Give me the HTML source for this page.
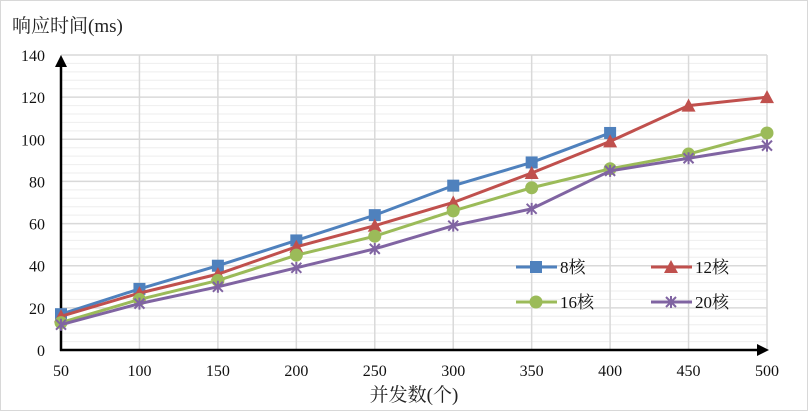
<!DOCTYPE html>
<html><head><meta charset="utf-8"><style>
html,body{margin:0;padding:0;background:#fff;}
svg{display:block;font-family:"Liberation Serif","Noto Serif CJK SC","Noto Sans CJK SC",serif;}
</style></head><body>
<svg id="chart" width="808" height="411" viewBox="0 0 808 411">
<rect x="0.5" y="0.5" width="807" height="410" fill="#fff" stroke="#d8d8d8"/>
<text x="12" y="32" font-size="19" fill="#222">响应时间(ms)</text>
<text x="414" y="401" font-size="19" fill="#222" text-anchor="middle">并发数(个)</text>
<g id="grid"></g><g id="axes"></g><g id="series"></g><g id="legend"></g>
</svg>
<script>
const categories=[50,100,150,200,250,300,350,400,450,500];
const yTicks=[0,20,40,60,80,100,120,140];
const seriesNames=["8核","12核","16核","20核"];
const s8=[17,29,40,52,64,78,89,103];
const s12=[16,27,36,49,59,70,84,99,116,120];
const s16=[13,24,33,45,54,66,77,86,93,103];
const s20=[12,22,30,39,48,59,67,85,91,97];
const NS="http://www.w3.org/2000/svg";
const X0=61,X1=767,Y0=350,Y1=55;
const xs=i=>X0+(X1-X0)*i/(categories.length-1);
const ys=v=>Y0-(Y0-Y1)*v/140;
function mk(t,a,p){const e=document.createElementNS(NS,t);for(const k in a)e.setAttribute(k,a[k]);p.appendChild(e);return e;}
const grid=document.getElementById('grid'),axes=document.getElementById('axes'),ser=document.getElementById('series'),leg=document.getElementById('legend');
for(let v=0;v<=140;v+=4){if(v%20===0)continue;const l=mk('line',{x1:X0,x2:X1,y1:ys(v),y2:ys(v),stroke:'#eeeeee','stroke-width':1},grid);

}
yTicks.forEach(v=>{const l=mk('line',{x1:X0,x2:X1,y1:ys(v),y2:ys(v),stroke:'#d9d9d9','stroke-width':1.5},grid);


const t=mk('text',{x:45,y:ys(v)+6,'font-size':16,'text-anchor':'end',fill:'#111'},axes);t.textContent=v;

});
categories.forEach((c,i)=>{const l=mk('line',{x1:xs(i),x2:xs(i),y1:Y1,y2:Y0,stroke:'#d9d9d9','stroke-width':1.5},grid);


const t=mk('text',{x:xs(i),y:376,'font-size':16,'text-anchor':'middle',fill:'#111'},axes);t.textContent=c;

});
const ya=mk('line',{x1:X0,x2:X0,y1:Y0+1,y2:66,stroke:'#000','stroke-width':2.5},axes);


const yh=mk('polygon',{points:`${X0-6},67 ${X0+6},67 ${X0},55`,fill:'#000'},axes);


const xa=mk('line',{x1:X0-1,x2:758,y1:Y0,y2:Y0,stroke:'#000','stroke-width':2.5},axes);


const xh=mk('polygon',{points:`757,${Y0-6} 757,${Y0+6} 769,${Y0}`,fill:'#000'},axes);


const colors=['#4f81bd','#c0504d','#9bbb59','#8064a2'];
const marks=['square','triangle','circle','star'];
function marker(type,x,y,c,p){let e;
if(type==='square')e=mk('rect',{x:x-6,y:y-6,width:12,height:12,fill:c},p);
else if(type==='triangle')e=mk('polygon',{points:`${x-7},${y+6} ${x+7},${y+6} ${x},${y-7}`,fill:c},p);
else if(type==='circle')e=mk('circle',{cx:x,cy:y,r:6.5,fill:c},p);
else{e=mk('path',{d:`M${x-5},${y-5}L${x+5},${y+5}M${x-5},${y+5}L${x+5},${y-5}M${x},${y-6}L${x},${y+6}`,stroke:c,'stroke-width':2,fill:'none'},p);}
return e;}
[s8,s12,s16,s20].forEach((d,k)=>{const g=mk('g',{},ser);


const pl=mk('polyline',{points:d.map((v,i)=>xs(i)+','+ys(v)).join(' '),fill:'none',stroke:colors[k],'stroke-width':3},g);


d.forEach((v,i)=>{const m=marker(marks[k],xs(i),ys(v),colors[k],g);

});});
const lpos=[[505,267],[640,267],[505,302],[640,302]];
seriesNames.forEach((n,k)=>{const [x,y]=lpos[k];const g=mk('g',{},leg);


mk('line',{x1:x+11,x2:x+52,y1:y,y2:y,stroke:colors[k],'stroke-width':3},g);
marker(marks[k],x+31,y,colors[k],g);
const t=mk('text',{x:x+55,y:y+6,'font-size':17,fill:'#111'},g);t.textContent=n;});
</script>
</body></html>
